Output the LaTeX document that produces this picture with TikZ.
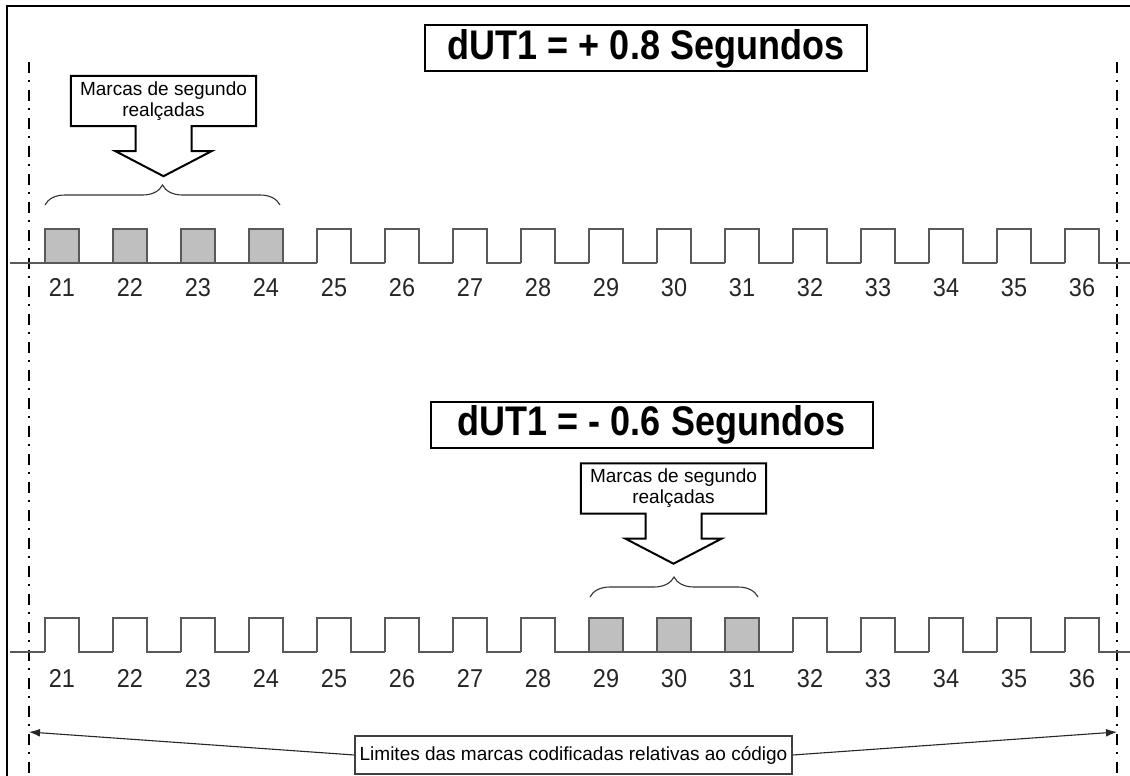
\documentclass[tikz,border=0pt]{standalone}
\usepackage{graphicx}
\usepackage{fontspec}
\setmainfont{Liberation Sans}
\usetikzlibrary{arrows.meta,positioning,decorations.pathreplacing}

\newcommand{\tall}[2][1.15]{\scalebox{1}[#1]{#2}}

\tikzset{
  titlebox/.style={draw=black, line width=2pt, minimum width=442pt, minimum height=46pt, inner sep=0pt, font=\fontsize{36}{40}\selectfont\bfseries},
  markbox/.style={minimum width=185pt, minimum height=50pt, inner sep=0pt, align=center, font=\fontsize{19}{21}\selectfont},
  callout/.style={draw=black, line width=2pt, line join=miter},
  wave/.style={draw=black!65, line width=1.4pt},
  shaded/.style={wave, fill=black!25},
  num/.style={anchor=base, inner sep=0pt, font=\fontsize{23.5}{26}\selectfont, text=black!85},
  marcabrace/.style={decorate, decoration={brace, amplitude=20pt}, draw=black!80, line width=1.1pt},
  limite/.style={dash pattern=on 11pt off 7pt on 2pt off 8pt, line width=2pt},
  limbox/.style={draw=black!75, line width=1.3pt, minimum width=437pt, minimum height=38pt, inner sep=0pt, font=\fontsize{19}{21}\selectfont},
  limarrow/.style={-{Latex[length=11pt,width=8pt]}, line width=1.1pt, black!85},
}

\begin{document}
\begin{tikzpicture}[x=1pt,y=-1pt]
  \useasboundingbox (0,0) rectangle (1130,776);

  % frame
  \draw[line width=2.8pt] (7,790) -- (7,6) -- (1140,6);

  % limits
  \draw[limite] (29,62) -- (29,776);
  \draw[limite] (1117,62) -- (1117,776);

  % dUT1 = +0.8
  \node[titlebox] (dut1) at (646,48.5) {\tall{dUT1 = + 0.8 Segundos}};
  \node[markbox] (m1) at (163.5,101) {Marcas de segundo\\realçadas};
  \draw[callout] (m1.south west) -- (m1.north west) -- (m1.north east) -- (m1.south east)
    -- ([xshift=28pt]m1.south) -- ++(0,25) -- ++(20,0) -- ++(-48,25) -- ++(-48,-25)
    -- ++(20,0) -- ++(0,-25) -- cycle;
  \draw[marcabrace] (45,205) -- (280,205);

  \draw[wave] (10,263) -- (45,263);
  \foreach \n in {21,...,36}{
    \pgfmathsetmacro{\xa}{45+68*(\n-21)}
    \ifnum\n<25
      \draw[shaded] (\xa,263) rectangle ++(34,-34);
      \draw[wave] (\xa+34,263) -- ++(34,0);
    \else
      \draw[wave] (\xa,263) -- ++(0,-34) -- ++(34,0) -- ++(0,34) -- ++(34,0);
    \fi
    \node[num] (t\n) at (\xa+17,296) {\tall[1.1]{\n}};
  }

  % dUT1 = -0.6
  \node[titlebox] (dut2) at (651.5,424.5) {\tall{dUT1 = - 0.6 Segundos}};
  \node[markbox] (m2) at (673.5,488.5) {Marcas de segundo\\realçadas};
  \draw[callout] (m2.south west) -- (m2.north west) -- (m2.north east) -- (m2.south east)
    -- ([xshift=28pt]m2.south) -- ++(0,25) -- ++(20,0) -- ++(-48,25) -- ++(-48,-25)
    -- ++(20,0) -- ++(0,-25) -- cycle;
  \draw[marcabrace] (590,597) -- (758,597);

  \draw[wave] (10,652) -- (45,652);
  \foreach \n in {21,...,36}{
    \pgfmathsetmacro{\xa}{45+68*(\n-21)}
    \ifnum\n>28 \ifnum\n<32
      \draw[shaded] (\xa,652) rectangle ++(34,-34);
      \draw[wave] (\xa+34,652) -- ++(34,0);
    \else
      \draw[wave] (\xa,652) -- ++(0,-34) -- ++(34,0) -- ++(0,34) -- ++(34,0);
    \fi \else
      \draw[wave] (\xa,652) -- ++(0,-34) -- ++(34,0) -- ++(0,34) -- ++(34,0);
    \fi
    \node[num] (b\n) at (\xa+17,687) {\tall[1.1]{\n}};
  }

  % bottom label
  \coordinate (limL) at (29,732);
  \coordinate (limR) at (1117,732);
  \node[limbox] (lim) at (573.5,755) {Limites das marcas codificadas relativas ao código};
  \draw[limarrow] (lim.west) -- (limL);
  \draw[limarrow] (lim.east) -- (limR);
\end{tikzpicture}
\end{document}
